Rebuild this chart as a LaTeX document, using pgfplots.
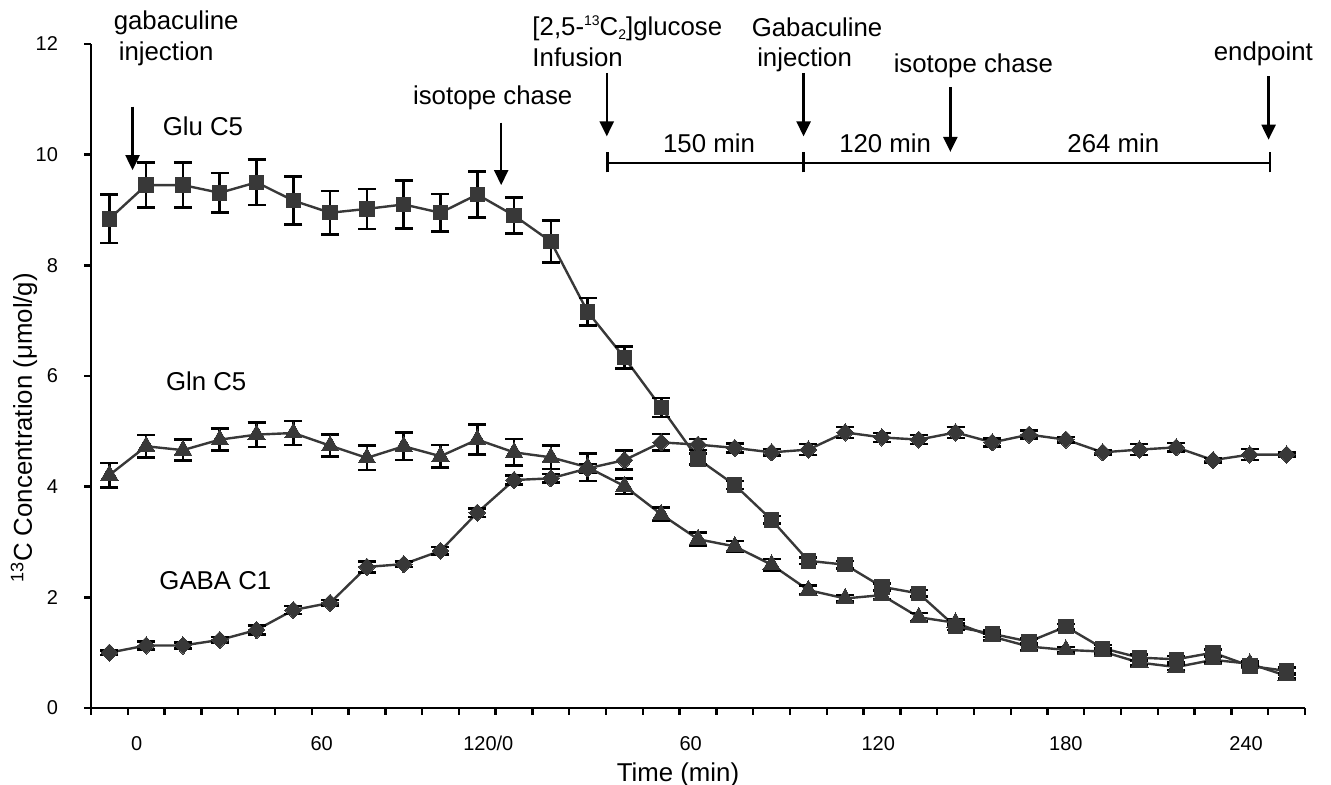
\documentclass[border=0pt]{standalone}
\usepackage{pgfplots}
\pgfplotsset{compat=1.18}
\usepackage{pgfplotstable}
\usepackage{fontspec}
\setmainfont{Liberation Sans}
\usetikzlibrary{arrows.meta}

\definecolor{ser}{HTML}{383838}

\pgfplotstableread{
k glu gluerr gln glnerr gaba gabaerr
0 8.84 0.44 4.21 0.22 1.00 0.04
1 9.45 0.41 4.73 0.20 1.13 0.07
2 9.45 0.41 4.66 0.19 1.13 0.05
3 9.31 0.36 4.85 0.20 1.23 0.05
4 9.50 0.41 4.94 0.22 1.41 0.08
5 9.17 0.43 4.97 0.22 1.77 0.07
6 8.95 0.39 4.74 0.20 1.90 0.05
7 9.02 0.36 4.52 0.22 2.55 0.10
8 9.10 0.43 4.73 0.25 2.60 0.05
9 8.95 0.34 4.55 0.20 2.84 0.07
10 9.28 0.42 4.85 0.27 3.53 0.08
11 8.90 0.33 4.62 0.24 4.12 0.08
12 8.43 0.38 4.53 0.21 4.15 0.08
13 7.16 0.25 4.35 0.25 4.33 0.08
14 6.33 0.20 4.01 0.14 4.48 0.17
15 5.43 0.17 3.50 0.12 4.80 0.15
16 4.50 0.10 3.05 0.12 4.76 0.10
17 4.03 0.07 2.92 0.10 4.70 0.08
18 3.40 0.07 2.59 0.10 4.62 0.06
19 2.66 0.06 2.13 0.08 4.67 0.10
20 2.59 0.07 1.98 0.06 4.98 0.10
21 2.19 0.06 2.04 0.08 4.89 0.08
22 2.07 0.06 1.64 0.08 4.85 0.08
23 1.47 0.06 1.54 0.06 4.98 0.10
24 1.34 0.06 1.29 0.06 4.80 0.07
25 1.20 0.06 1.11 0.06 4.94 0.07
26 1.47 0.05 1.05 0.05 4.85 0.05
27 1.08 0.06 1.02 0.05 4.62 0.04
28 0.91 0.06 0.82 0.05 4.67 0.10
29 0.88 0.06 0.74 0.05 4.71 0.08
30 1.00 0.06 0.87 0.05 4.48 0.04
31 0.76 0.04 0.80 0.04 4.58 0.10
32 0.67 0.06 0.58 0.05 4.58 0.04
}\data

\begin{document}
\begin{tikzpicture}
\begin{axis}[
  at={(0,0)}, anchor=south west,
  width=607pt, height=332pt, scale only axis,
  xmin=-0.5, xmax=32.5, ymin=0, ymax=12,
  clip=false,
  axis x line=bottom, axis y line=left,
  axis line style={-, line width=1.3pt, black},
  tick align=outside,
  major tick length=3.3pt, minor tick length=3.3pt,
  every tick/.style={line width=1.2pt, black},
  ytick={0,2,...,12},
  xtick={0.74,5.77,10.3,15.8,20.9,26,30.9},
  xticklabels={0,60,120/0,60,120,180,240},
  major x tick style={draw=none},
  minor xtick={-0.5,0.5,...,32.5},
  tick label style={font=\fontsize{10}{12}\selectfont},
  yticklabel style={/pgf/number format/assume math mode=true, anchor=east, inner sep=0pt, xshift=-13pt},
  xticklabel style={anchor=base, inner sep=0pt, yshift=-18pt},
  xlabel={Time (min)},
  xlabel style={at={(axis description cs:0.4835,-0.1114)}, anchor=base, inner sep=0pt, font=\fontsize{12.9}{15}\selectfont},
  ylabel={\textsuperscript{13}C Concentration (μmol/g)},
  ylabel style={at={(axis description cs:-0.0552,0.4217)}, anchor=center, inner sep=0pt, font=\fontsize{12.9}{15}\selectfont},
  error bars/error bar style={line width=1.3pt, black},
  error bars/error mark options={rotate=90, mark size=4.5pt, line width=1.3pt, black},
]
\coordinate (bl) at (rel axis cs:0,0);
\addplot[color=ser, line width=1.2pt, mark=square*, mark size=3.6pt, mark options={fill=ser, draw=ser, line width=0pt},
  error bars/.cd, y dir=both, y explicit]
  table[x=k, y=glu, y error=gluerr] {\data};
\addplot[color=ser, line width=1.2pt, mark=triangle*, mark size=5pt, mark options={fill=ser, draw=ser, line width=0pt},
  error bars/.cd, y dir=both, y explicit]
  table[x=k, y=gln, y error=glnerr] {\data};
\addplot[color=ser, line width=1.2pt, mark=diamond*, mark size=4.3pt, mark options={fill=ser, draw=ser, line width=0pt, xscale=1.3},
  error bars/.cd, y dir=both, y explicit]
  table[x=k, y=gaba, y error=gabaerr] {\data};

% annotations
\begin{scope}[every node/.style={font=\fontsize{12.9}{15}\selectfont, inner sep=0pt, text=black}]
\node[anchor=base west] at (0.109,12.27) {gabaculine};
\node[anchor=base west] at (0.245,11.71) {injection};
\node[anchor=base west] at (1.44,10.34) {Glu C5};
\node[anchor=base west] at (1.53,5.73) {Gln C5};
\node[anchor=base west] at (1.35,2.145) {GABA C1};
\node[anchor=base west] at (8.245,10.90) {isotope chase};
\node[anchor=base west] at (11.49,12.16) {[2,5-\raisebox{0.7ex}{\fontsize{7}{7}\selectfont 13}C\raisebox{-0.35ex}{\fontsize{7}{7}\selectfont 2}]glucose};
\node[anchor=base west] at (11.49,11.60) {Infusion};
\node[anchor=base west] at (17.45,12.14) {Gabaculine};
\node[anchor=base west] at (17.60,11.60) {injection};
\node[anchor=base] at (16.30,10.03) {150 min};
\node[anchor=base west] at (19.83,10.03) {120 min};
\node[anchor=base west] at (21.31,11.48) {isotope chase};
\node[anchor=base] at (27.29,10.03) {264 min};
\node[anchor=base west] at (30.01,11.71) {endpoint};
\end{scope}
\begin{scope}[line width=1.2pt, black, -{Triangle[width=7pt,length=7.5pt]}]
\draw (0.63,10.87) -- (0.63,9.72);
\draw (10.65,10.58) -- (10.65,9.45);
\draw (13.52,11.48) -- (13.52,10.33);
\draw (18.87,11.48) -- (18.87,10.33);
\draw (22.86,11.22) -- (22.86,10.05);
\draw (31.51,11.42) -- (31.51,10.27);
\end{scope}
\draw[line width=1.2pt, black] (13.54,9.85) -- (31.55,9.85);
\draw[line width=1.2pt, black] (13.54,9.68) -- (13.54,10.05);
\draw[line width=1.2pt, black] (18.87,9.68) -- (18.87,10.05);
\draw[line width=1.2pt, black] (31.55,9.68) -- (31.55,10.05);
\end{axis}
\pgfresetboundingbox
\useasboundingbox (bl) ++(-45.5pt,-38.5pt) rectangle ++(665.5pt,392.5pt);
\end{tikzpicture}
\end{document}
